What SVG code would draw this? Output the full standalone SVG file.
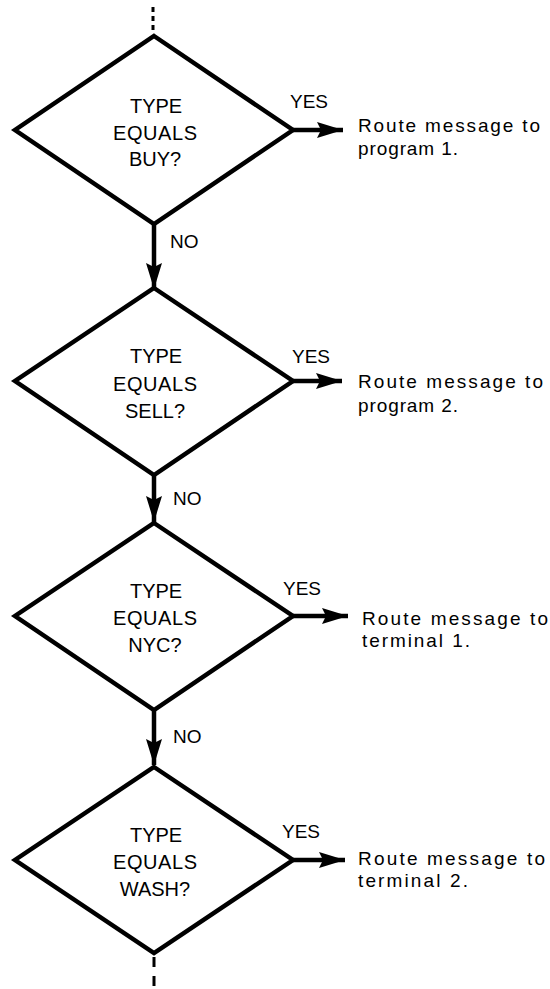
<svg xmlns="http://www.w3.org/2000/svg" width="550" height="989" viewBox="0 0 550 989">
<style>
.d{fill:none;stroke:#000;stroke-width:4.5;stroke-linejoin:miter}
.c{fill:none;stroke:#000;stroke-width:4.5}
.dash{fill:none;stroke:#000;stroke-width:3}
.t{font-family:"Liberation Sans",Arial,sans-serif;font-size:20px;fill:#000;text-anchor:middle}
.l{font-family:"Liberation Sans",Arial,sans-serif;font-size:19px;fill:#000}
</style>
<defs>
<marker id="ah" markerUnits="userSpaceOnUse" markerWidth="28" markerHeight="18" refX="26" refY="8" orient="auto">
<path d="M0,0 L26,8 L0,16 L4,8 Z" fill="#000"/>
</marker>
</defs>
<g id="connectors">
<path class="dash" d="M153,7 V33" stroke-dasharray="5 4"/>
<path class="c" d="M154,224 V289" marker-end="url(#ah)"/>
<path class="c" d="M154,475 V522" marker-end="url(#ah)"/>
<path class="c" d="M154,710 V765" marker-end="url(#ah)"/>
<path class="dash" d="M154,957 V989" stroke-dasharray="10 9"/>
<path class="c" d="M293,130 H343" marker-end="url(#ah)"/>
<path class="c" d="M293,381 H342" marker-end="url(#ah)"/>
<path class="c" d="M293,616 H348" marker-end="url(#ah)"/>
<path class="c" d="M293,860 H345" marker-end="url(#ah)"/>
<text class="l" x="170" y="248">NO</text>
<text class="l" x="173" y="505">NO</text>
<text class="l" x="173" y="743">NO</text>
<text class="l" x="290" y="108">YES</text>
<text class="l" x="292" y="363">YES</text>
<text class="l" x="283" y="595">YES</text>
<text class="l" x="282" y="838">YES</text>
</g>
<g id="node1">
<polygon class="d" points="154,36 293,130 154,224 15,130"/>
<text class="t" x="156" y="113" textLength="52">TYPE</text>
<text class="t" x="155" y="140" textLength="84">EQUALS</text>
<text class="t" x="155" y="166">BUY?</text>
</g>
<g id="node2">
<polygon class="d" points="154,288 293,381 154,475 15,381"/>
<text class="t" x="156" y="363" textLength="52">TYPE</text>
<text class="t" x="155" y="391" textLength="84">EQUALS</text>
<text class="t" x="155" y="418">SELL?</text>
</g>
<g id="node3">
<polygon class="d" points="154,523 293,616 154,710 15,616"/>
<text class="t" x="156" y="598" textLength="52">TYPE</text>
<text class="t" x="155" y="625" textLength="84">EQUALS</text>
<text class="t" x="155" y="652">NYC?</text>
</g>
<g id="node4">
<polygon class="d" points="154,767 293,860 154,953 15,860"/>
<text class="t" x="156" y="842" textLength="52">TYPE</text>
<text class="t" x="155" y="869" textLength="84">EQUALS</text>
<text class="t" x="155" y="896">WASH?</text>
</g>
<g id="action1">
<text class="l" x="358" y="132" textLength="182">Route message to</text>
<text class="l" x="358" y="155" textLength="100">program 1.</text>
</g>
<g id="action2">
<text class="l" x="358" y="388" textLength="185">Route message to</text>
<text class="l" x="358" y="412" textLength="100">program 2.</text>
</g>
<g id="action3">
<text class="l" x="362" y="625" textLength="186">Route message to</text>
<text class="l" x="362" y="647" textLength="108">terminal 1.</text>
</g>
<g id="action4">
<text class="l" x="358" y="865" textLength="187">Route message to</text>
<text class="l" x="358" y="887" textLength="110">terminal 2.</text>
</g>
</svg>
